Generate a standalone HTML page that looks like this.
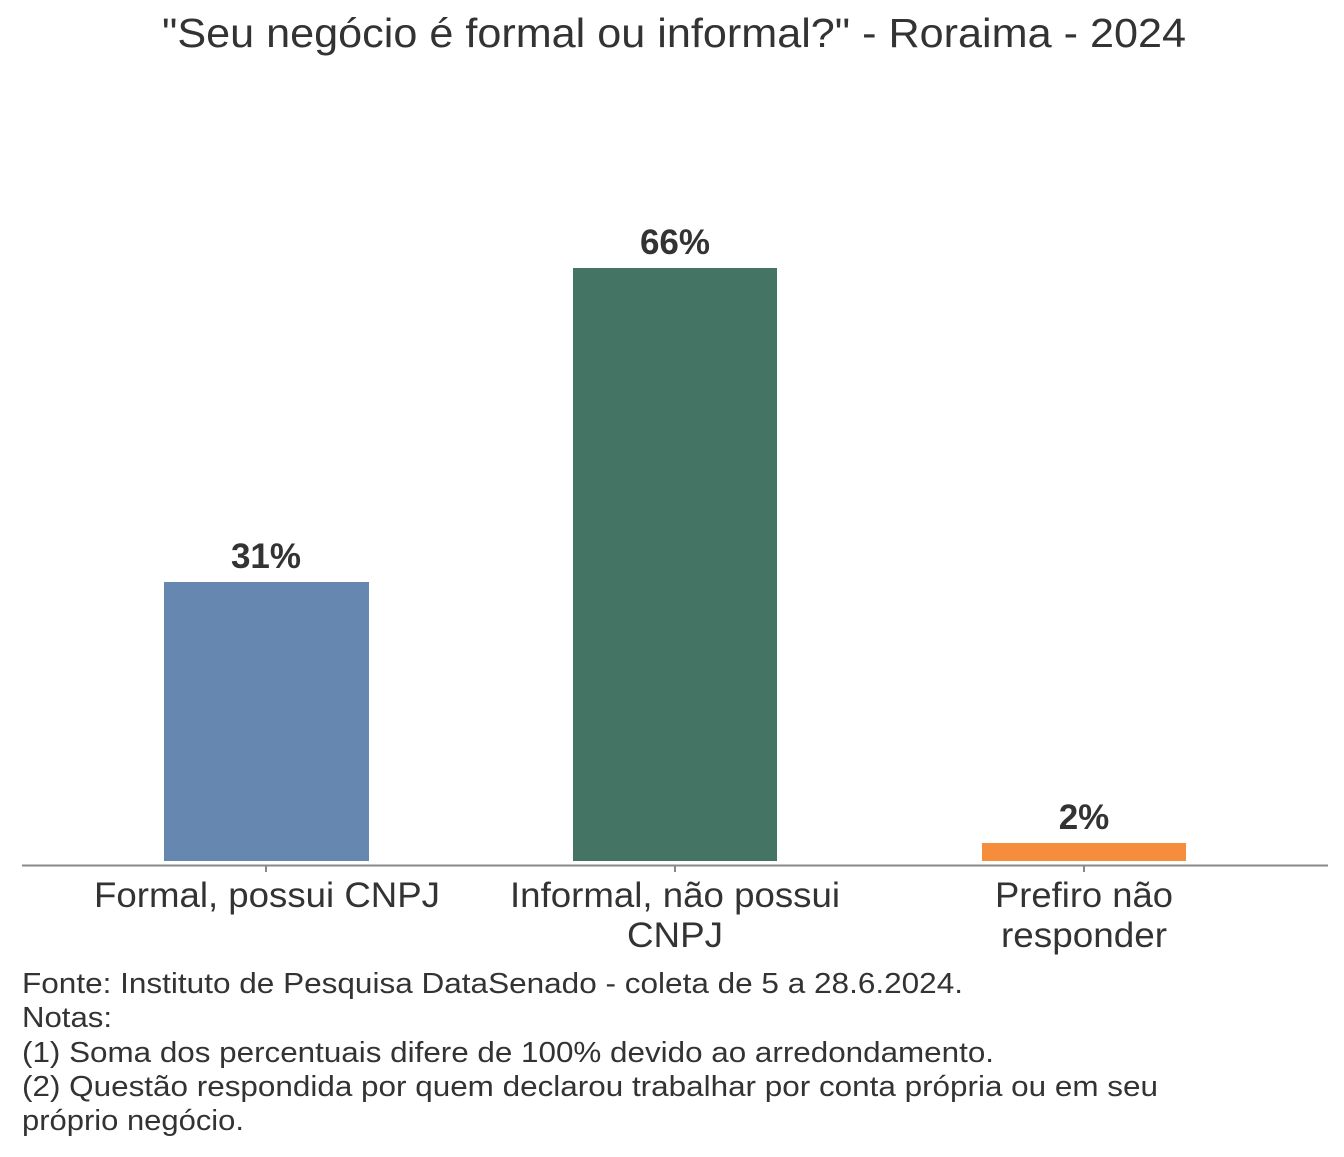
<!DOCTYPE html>
<html><head><meta charset="utf-8"><style>
body{margin:0;background:#fff;}
svg text{font-family:"Liberation Sans",sans-serif;fill:#333;}
</style></head><body>
<svg width="1344" height="1152" xmlns="http://www.w3.org/2000/svg">
<text x="162" y="47" font-size="41" textLength="1024" lengthAdjust="spacingAndGlyphs">"Seu negócio é formal ou informal?" - Roraima - 2024</text>
<rect x="164" y="582" width="205" height="279" fill="#6688b0"/>
<rect x="573" y="268" width="204" height="593" fill="#447564"/>
<rect x="982" y="843" width="204" height="18" fill="#f58d3d"/>
<g font-size="35" font-weight="bold" text-anchor="middle">
<text x="266" y="568">31%</text>
<text x="675" y="254">66%</text>
<text x="1084" y="829">2%</text>
</g>
<line x1="22" y1="865.5" x2="1328" y2="865.5" stroke="#888" stroke-width="2"/>
<g stroke="#888" stroke-width="2"><line x1="266" y1="866" x2="266" y2="872"/><line x1="675" y1="866" x2="675" y2="872"/><line x1="1084" y1="866" x2="1084" y2="872"/></g>
<g font-size="35">
<text x="94" y="907" textLength="346" lengthAdjust="spacingAndGlyphs">Formal, possui CNPJ</text>
<text x="510" y="907" textLength="330" lengthAdjust="spacingAndGlyphs">Informal, não possui</text>
<text x="627" y="947" textLength="96" lengthAdjust="spacingAndGlyphs">CNPJ</text>
<text x="995" y="907" textLength="178" lengthAdjust="spacingAndGlyphs">Prefiro não</text>
<text x="1001" y="947" textLength="166" lengthAdjust="spacingAndGlyphs">responder</text>
</g>
<g font-size="29">
<text x="22" y="993" textLength="941" lengthAdjust="spacingAndGlyphs">Fonte: Instituto de Pesquisa DataSenado - coleta de 5 a 28.6.2024.</text>
<text x="22" y="1027" textLength="90" lengthAdjust="spacingAndGlyphs">Notas:</text>
<text x="22" y="1062" textLength="972" lengthAdjust="spacingAndGlyphs">(1) Soma dos percentuais difere de 100% devido ao arredondamento.</text>
<text x="22" y="1096" textLength="1136" lengthAdjust="spacingAndGlyphs">(2) Questão respondida por quem declarou trabalhar por conta própria ou em seu</text>
<text x="22" y="1130" textLength="222" lengthAdjust="spacingAndGlyphs">próprio negócio.</text>
</g>
</svg>
</body></html>
